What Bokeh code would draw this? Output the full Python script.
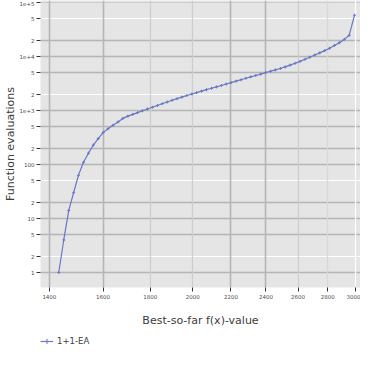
from bokeh.plotting import figure
from bokeh.layouts import column
from bokeh.models import FixedTicker, Grid, Legend, LegendItem, ColumnDataSource
from bokeh.embed import file_html
from bokeh.resources import INLINE

# ---- data ----
best_f = [1433, 1451, 1469, 1487, 1505, 1524, 1543, 1562, 1581, 1601,
          1620, 1640, 1661, 1681, 1702, 1723, 1744, 1765, 1787, 1809,
          1832, 1854, 1877, 1900, 1924, 1947, 1971, 1996, 2020, 2045,
          2070, 2096, 2122, 2148, 2174, 2201, 2228, 2256, 2283, 2311,
          2340, 2369, 2398, 2428, 2457, 2488, 2518, 2549, 2581, 2613,
          2645, 2677, 2710, 2744, 2778, 2812, 2846, 2882, 2917, 2953, 2992]
evals = [1, 4, 14, 30, 63, 110, 162, 229, 302, 393,
         459, 532, 615, 714, 785, 847, 914, 987, 1066, 1148,
         1238, 1336, 1437, 1546, 1655, 1771, 1891, 2021, 2145, 2282,
         2428, 2577, 2735, 2904, 3096, 3286, 3490, 3704, 3948, 4191,
         4449, 4722, 5035, 5330, 5648, 5995, 6415, 6934, 7484, 8126,
         8887, 9710, 10640, 11690, 12830, 14220, 16020, 18060, 20740, 24790, 58200]
series_name = "1+1-EA"

x_ticks = [1400, 1600, 1800, 2000, 2200, 2400, 2600, 2800, 3000]
x_labels = ["1400", "1600", "1800", "2000", "2200", "2400", "2600", "2800", "3000"]
y_ticks = [1, 2, 5, 10, 20, 50, 100, 200, 500, 1000, 2000, 5000,
           10000, 20000, 50000, 100000]
y_labels = ["1", "2", "5", "10", "2", "5", "100", "2", "5", "1e+3", "2", "5",
            "1e+4", "2", "5", "1e+5"]

FONT = "DejaVu Sans"
LINE_COLOR = "#6a77c5"

p = figure(width=360, height=334, x_axis_type="log", y_axis_type="log",
           x_range=(1369.4, 3037), y_range=(0.527, 108900),
           output_backend="svg", toolbar_location=None,
           min_border_left=35, min_border_right=0, min_border_top=0,
           min_border_bottom=47)
p.background_fill_color = "#e5e5e5"
p.border_fill_color = "white"
p.outline_line_color = None

p.xgrid.visible = False
p.ygrid.visible = False

grid_groups = [
    (1, [1, 5, 10, 20, 100, 200, 500, 1000, 5000, 10000, 20000], "#b5b5b5", 1.6),
    (1, [2, 50, 2000, 50000], "#ffffff", 1.2),
    (1, [100000], "#cccccc", 1.0),
    (0, [1400, 1600, 2200, 2400], "#b5b5b5", 1.6),
    (0, [1800, 2000, 2600], "#cdcdcd", 1.2),
    (0, [2800], "#d8d8d8", 1.2),
    (0, [3000], "#ffffff", 1.2),
]
for dim, ticks, col, w in grid_groups:
    g = Grid(dimension=dim, ticker=FixedTicker(ticks=ticks),
             grid_line_color=col, grid_line_width=w)
    p.add_layout(g)

for ax in (p.xaxis[0], p.yaxis[0]):
    ax.axis_line_color = None
    ax.major_tick_in = 0
    ax.major_tick_out = 4
    ax.major_tick_line_color = "#333333"
    ax.minor_tick_line_color = None
    ax.major_label_text_color = "#4d4d4d"
    ax.major_label_text_font = FONT
    ax.major_label_standoff = 2
    ax.axis_label_text_font = FONT
    ax.axis_label_text_font_size = "11px"
    ax.axis_label_text_font_style = "normal"
    ax.axis_label_text_color = "#3c3c3c"

p.xaxis.ticker = FixedTicker(ticks=x_ticks)
p.xaxis.major_label_overrides = {t: l for t, l in zip(x_ticks, x_labels)}
p.xaxis.major_label_text_font_size = "5.5px"
p.xaxis.axis_label = "Best-so-far f(x)-value"
p.xaxis.axis_label_standoff = 12

p.yaxis.ticker = FixedTicker(ticks=y_ticks)
p.yaxis.major_label_overrides = {t: l for t, l in zip(y_ticks, y_labels)}
p.yaxis.major_label_text_font_size = "5.5px"
p.yaxis.axis_label = "Function evaluations"
p.yaxis.axis_label_standoff = 0

src = ColumnDataSource(dict(x=best_f, y=evals))
p.line("x", "y", source=src, line_color=LINE_COLOR, line_width=1.2)
p.scatter("x", "y", source=src, marker="cross", size=3,
          line_color=LINE_COLOR, line_width=1)

# ---- legend strip below the chart (its frame holds only the legend) ----
lg = figure(width=360, height=14, x_range=(0, 1), y_range=(0, 1),
            output_backend="svg", toolbar_location=None,
            x_axis_location=None, y_axis_location=None,
            min_border_left=37, min_border_right=0, min_border_top=0,
            min_border_bottom=0)
lg.outline_line_color = None
lg.xgrid.visible = False
lg.ygrid.visible = False
lg.background_fill_color = "white"
lg.border_fill_color = "white"
lln = lg.line("x", "y", source=src, line_color=LINE_COLOR, line_width=1.2)
lmk = lg.scatter("x", "y", source=src, marker="cross", size=3,
                 line_color=LINE_COLOR, line_width=1)
legend = Legend(items=[LegendItem(label=series_name, renderers=[lln, lmk])],
                location="top_left", padding=0, margin=0, spacing=0,
                glyph_width=13, glyph_height=14, label_height=14,
                label_standoff=4, label_text_font=FONT,
                label_text_font_size="8.5px", label_text_color="#3c3c3c",
                background_fill_alpha=0, border_line_color=None)
lg.add_layout(legend, "center")

layout = column(p, lg, spacing=0)
open("out.html", "w").write(file_html(layout, INLINE))
